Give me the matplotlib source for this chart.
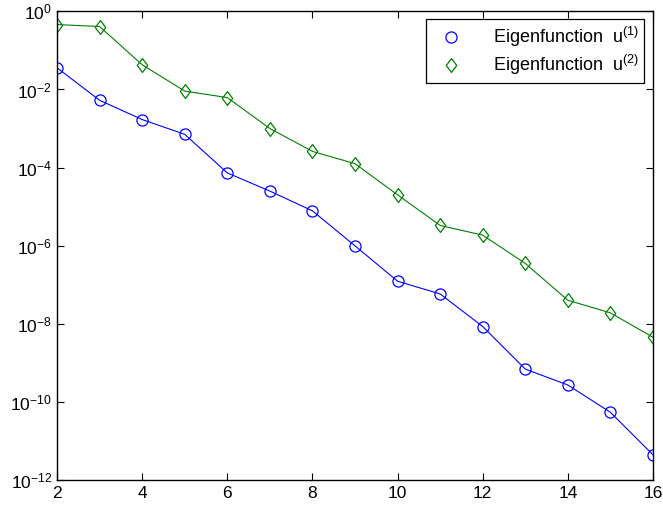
import numpy as np
import matplotlib.pyplot as plt
from matplotlib.ticker import NullLocator

plt.rcParams['font.family'] = ['Liberation Sans', 'DejaVu Sans']
plt.rcParams['mathtext.fontset'] = 'custom'
plt.rcParams['mathtext.rm'] = 'Liberation Sans'
plt.rcParams['mathtext.it'] = 'Liberation Sans'

n = np.arange(2, 17)
u1 = [3.6e-2, 5.3e-3, 1.7e-3, 7.1e-4, 7.3e-5, 2.5e-5, 7.8e-6, 9.9e-7,
      1.23e-7, 5.8e-8, 8.5e-9, 6.9e-10, 2.7e-10, 5.4e-11, 4.4e-12]
u2 = [0.46, 0.41, 4.3e-2, 9.1e-3, 6.2e-3, 1.0e-3, 2.6e-4, 1.26e-4,
      2.0e-5, 3.3e-6, 1.86e-6, 3.5e-7, 4.0e-8, 1.9e-8, 4.5e-9]
yexp = [0, -2, -4, -6, -8, -10, -12]

green = (0, 0.5, 0)
diamond = [(0, 1), (0.75, 0), (0, -1), (-0.75, 0), (0, 1)]

fig = plt.figure(figsize=(6.63, 5.11), dpi=100)
ax = fig.add_axes([0.086, 0.0607, 0.899, 0.917])

ax.semilogy(n, u1, '-', color='b', lw=0.8)
ax.semilogy(n, u2, '-', color=green, lw=0.8)
h1, = ax.semilogy(n, u1, 'o', color='b', mfc='none', ms=8, mew=0.9)
h2, = ax.semilogy(n, u2, marker=diamond, ls='none', color=green, mfc='none', ms=10, mew=0.9)

ax.set_xlim(2, 16)
ax.set_ylim(1e-12, 1e0)
ax.set_xticks(range(2, 17, 2))
ax.set_yticks([10.0**e for e in yexp], [r'$10^{%d}$' % e for e in yexp])
ax.yaxis.set_minor_locator(NullLocator())
ax.tick_params(direction='in', top=True, right=True, labelsize=12.5, length=5, width=0.8)
ax.tick_params(axis='x', pad=4)
for s in ax.spines.values():
    s.set_linewidth(1.0)

leg = ax.legend([h1, h2], [r'Eigenfunction  u$^{(1)}$', r'Eigenfunction  u$^{(2)}$'],
                loc='upper right', fontsize=13, fancybox=False, framealpha=1,
                edgecolor='k', handletextpad=1.2, handlelength=2.2,
                borderpad=0.3, labelspacing=0.25, borderaxespad=0,
                bbox_to_anchor=(0.985, 0.983))
leg.get_frame().set_linewidth(0.9)

fig.savefig('out.png', dpi=100)
